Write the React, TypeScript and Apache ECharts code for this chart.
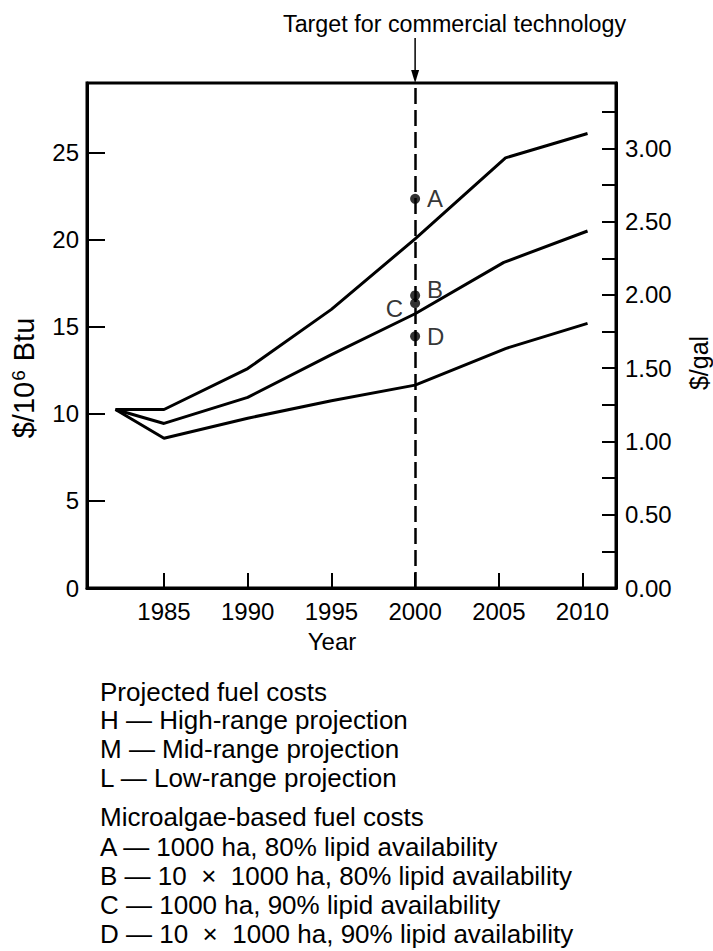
import React, { useEffect, useRef } from "react";
import * as echarts from "echarts";

const xTicks = [1985, 1990, 1995, 2000, 2005, 2010];
const leftTicks = [0, 5, 10, 15, 20, 25];
const rightTicks = [0, 0.25, 0.5, 0.75, 1, 1.25, 1.5, 1.75, 2, 2.25, 2.5, 2.75, 3, 3.25];
const rightLabels = [0, 0.5, 1, 1.5, 2, 2.5, 3];

const highYears = [1982.1, 1985, 1990, 1995, 2000, 2005.4, 2010.3];
const highVals = [10.25, 10.25, 12.6, 16.0, 20.05, 24.7, 26.1];
const midYears = [1982.1, 1985, 1990, 1995, 2000, 2005.3, 2010.3];
const midVals = [10.25, 9.45, 10.95, 13.4, 15.75, 18.7, 20.5];
const lowYears = [1982.1, 1985, 1990, 1995, 2000, 2005.4, 2010.3];
const lowVals = [10.25, 8.6, 9.75, 10.75, 11.65, 13.75, 15.2];

const pointNames = ["A", "B", "C", "D"];
const pointYear = 2000;
const pointVals = [22.35, 16.8, 16.35, 14.45];

const targetYear = 2000;
const titleText = "Target for commercial technology";
const legendLines = [
  "Projected fuel costs",
  "H \u2014 High-range projection",
  "M \u2014 Mid-range projection",
  "L \u2014 Low-range projection",
  "Microalgae-based fuel costs",
  "A \u2014 1000 ha, 80% lipid availability",
  "B \u2014 10  \u00d7  1000 ha, 80% lipid availability",
  "C \u2014 1000 ha, 90% lipid availability",
  "D \u2014 10  \u00d7  1000 ha, 90% lipid availability",
];
const legendRows = [692, 720, 749, 778, 817, 847, 876, 905, 934];

const FONT = "'Liberation Sans', Arial, Helvetica, sans-serif";

export default function App() {
  const ref = useRef<HTMLDivElement>(null);
  useEffect(() => {
    if (!ref.current) return;
    const chart = echarts.init(ref.current, null, { renderer: "svg" });
    const zip = (xs: number[], ys: number[]) => xs.map((x, i) => [x, ys[i]]);
    const lineStyle = { color: "#000", width: 3 };
    const labelPos: any[] = [
      { position: "right", offset: [2, 0] },
      { position: "right", offset: [2, -6] },
      { position: "left", offset: [-2, 5] },
      { position: "right", offset: [2, 0] },
    ];
    chart.setOption({
      animation: false,
      backgroundColor: "#fff",
      textStyle: { fontFamily: FONT, color: "#000" },
      grid: {
        left: 87,
        right: 97,
        top: 83,
        bottom: 363,
        show: true,
        borderColor: "#000",
        borderWidth: 3,
      },
      xAxis: {
        type: "value",
        min: 1980.4,
        max: 2012,
        axisLine: { lineStyle: { color: "#000", width: 3 } },
        axisTick: { inside: true, length: 15, lineStyle: { color: "#000", width: 2 }, customValues: xTicks },
        axisLabel: {
          customValues: xTicks,
          formatter: (v: number) => String(v),
          fontSize: 24,
          color: "#000",
          margin: 11,
          fontFamily: FONT,
        },
        splitLine: { show: false },
      },
      yAxis: [
        {
          type: "value",
          min: 0,
          max: 29,
          position: "left",
          axisLine: { show: true, lineStyle: { color: "#000", width: 3 } },
          axisTick: { show: true, inside: true, length: 18, lineStyle: { color: "#000", width: 2 }, customValues: leftTicks },
          axisLabel: { customValues: leftTicks, fontSize: 24, color: "#000", margin: 8, fontFamily: FONT },
          splitLine: { show: false },
        },
        {
          type: "value",
          min: 0,
          max: 3.447,
          position: "right",
          axisLine: { show: true, lineStyle: { color: "#000", width: 3 } },
          axisTick: { show: true, inside: true, length: 14, lineStyle: { color: "#000", width: 2 }, customValues: rightTicks },
          axisLabel: {
            customValues: rightLabels,
            formatter: (v: number) => v.toFixed(2),
            fontSize: 24,
            color: "#000",
            margin: 9,
            fontFamily: FONT,
          },
          splitLine: { show: false },
        },
      ],
      series: [
        {
          name: "H",
          type: "line",
          data: zip(highYears, highVals),
          symbol: "none",
          lineStyle,
          z: 3,
          markLine: {
            silent: true,
            symbol: "none",
            label: { show: false },
            lineStyle: { color: "#000", width: 2.5, type: [16, 6] },
            data: [{ xAxis: targetYear }],
          },
        },
        { name: "M", type: "line", data: zip(midYears, midVals), symbol: "none", lineStyle, z: 3 },
        { name: "L", type: "line", data: zip(lowYears, lowVals), symbol: "none", lineStyle, z: 3 },
        {
          name: "points",
          type: "scatter",
          symbolSize: 10,
          itemStyle: { color: "#000" },
          z: 5,
          label: { show: true, fontSize: 24, color: "#000", fontFamily: FONT, formatter: (p: any) => p.name },
          data: pointNames.map((n, i) => ({ name: n, value: [pointYear, pointVals[i]], label: labelPos[i] })),
        },
      ],
    });

    const px = chart.convertToPixel({ xAxisIndex: 0 }, targetYear) as number;
    const topY = chart.convertToPixel({ yAxisIndex: 0 }, 29) as number;
    const graphics: any[] = [
      {
        type: "text",
        x: 283,
        y: 24,
        style: { text: titleText, fontSize: 23.3, fontFamily: FONT, fill: "#000", align: "left", verticalAlign: "middle" },
      },
      { type: "line", shape: { x1: px, y1: 38, x2: px, y2: topY - 6 }, style: { stroke: "#000", lineWidth: 1.5 } },
      {
        type: "polygon",
        shape: { points: [[px - 4, topY - 13], [px + 4, topY - 13], [px, topY]] },
        style: { fill: "#000" },
      },
      {
        type: "text",
        x: 332,
        y: 641,
        style: { text: "Year", fontSize: 24, fontFamily: FONT, fill: "#000", align: "center", verticalAlign: "middle" },
      },
      {
        type: "text",
        x: 24,
        y: 378,
        rotation: Math.PI / 2,
        style: {
          text: "{a|$/10}{s|6}{a| Btu}",
          fontFamily: FONT,
          fill: "#000",
          align: "center",
          verticalAlign: "middle",
          rich: {
            a: { fontSize: 29, fontFamily: FONT, fill: "#000" },
            s: { fontSize: 19, fontFamily: FONT, fill: "#000", padding: [0, 1, 12, 1] },
          },
        },
      },
      {
        type: "text",
        x: 699,
        y: 363,
        rotation: Math.PI / 2,
        style: { text: "$/gal", fontSize: 25, fontFamily: FONT, fill: "#000", align: "center", verticalAlign: "middle" },
      },
      ...legendLines.map((t, i) => ({
        type: "text",
        x: 100,
        y: legendRows[i],
        style: { text: t, fontSize: 26, fontFamily: FONT, fill: "#000", align: "left", verticalAlign: "middle" },
      })),
    ];
    chart.setOption({ graphic: graphics });
    return () => chart.dispose();
  }, []);
  return <div ref={ref} style={{ position: "fixed", left: 0, top: 0, width: 713, height: 951 }} />;
}
